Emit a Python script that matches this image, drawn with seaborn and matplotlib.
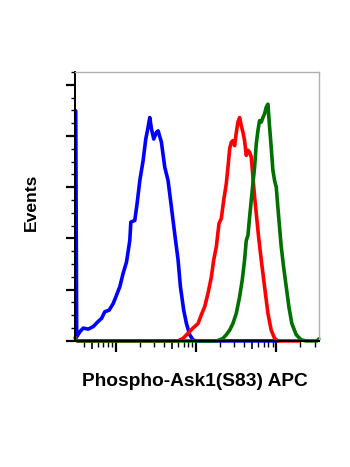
import numpy as np
import pandas as pd
import seaborn as sns
import matplotlib
matplotlib.use("Agg")
import matplotlib.pyplot as plt
from matplotlib.ticker import FixedLocator, NullFormatter

# log10(fluorescence) positions and event heights (arbitrary units, 0..5.25)
blue_logx = [0.500, 0.512, 0.552, 0.593, 0.656, 0.718, 0.780, 0.822, 0.863, 0.917,
             0.967, 1.008, 1.050, 1.091, 1.133, 1.174, 1.187, 1.236, 1.265, 1.299,
             1.340, 1.373, 1.402, 1.423, 1.444, 1.473, 1.506, 1.527, 1.568, 1.610,
             1.651, 1.693, 1.734, 1.776, 1.805, 1.846, 1.880, 1.921, 1.962, 2.004,
             3.020]
blue_y = [4.49, 0.08, 0.18, 0.25, 0.23, 0.28, 0.38, 0.44, 0.57, 0.60,
          0.73, 0.89, 1.06, 1.32, 1.54, 1.96, 2.32, 2.35, 2.68, 3.13,
          3.52, 3.94, 4.17, 4.36, 4.14, 3.94, 4.07, 4.10, 3.88, 3.39,
          3.13, 2.61, 2.09, 1.58, 1.06, 0.60, 0.34, 0.12, 0.02, 0.0,
          0.0]

red_logx = [0.494, 0.520, 1.776, 1.838, 1.900, 1.962, 2.025, 2.066, 2.108, 2.149,
            2.191, 2.220, 2.253, 2.286, 2.315, 2.344, 2.377, 2.398, 2.419, 2.440,
            2.460, 2.481, 2.502, 2.522, 2.543, 2.564, 2.585, 2.605, 2.626, 2.647,
            2.668, 2.688, 2.709, 2.730, 2.751, 2.780, 2.813, 2.854, 2.896, 2.937,
            2.979, 3.020, 3.290]
red_y = [0.07, 0.0, 0.0, 0.05, 0.15, 0.25, 0.34, 0.51, 0.67, 0.93,
         1.25, 1.58, 1.84, 2.29, 2.39, 2.74, 3.07, 3.39, 3.75, 3.88,
         3.91, 3.81, 4.07, 4.27, 4.36, 4.20, 4.07, 3.91, 3.62, 3.72,
         3.68, 3.59, 3.20, 2.81, 2.48, 2.03, 1.58, 1.06, 0.54, 0.21,
         0.05, 0.0, 0.0]

green_logx = [0.494, 0.520, 2.253, 2.294, 2.336, 2.377, 2.419, 2.460, 2.502, 2.543,
              2.576, 2.605, 2.626, 2.647, 2.668, 2.688, 2.709, 2.730, 2.751, 2.771,
              2.792, 2.813, 2.834, 2.854, 2.875, 2.896, 2.917, 2.937, 2.958, 2.979,
              3.000, 3.020, 3.041, 3.062, 3.091, 3.124, 3.157, 3.194, 3.249, 3.311,
              3.373, 3.510, 3.531]
green_y = [0.05, 0.0, 0.0, 0.02, 0.05, 0.12, 0.21, 0.34, 0.54, 0.86,
           1.19, 1.58, 1.96, 2.06, 2.42, 2.74, 3.07, 3.39, 3.85, 4.10,
           4.30, 4.27, 4.36, 4.43, 4.56, 4.62, 4.17, 3.78, 3.33, 3.13,
           3.00, 2.61, 2.22, 1.84, 1.45, 1.06, 0.67, 0.34, 0.12, 0.02,
           0.0, 0.0, 0.04]

x_label = "Phospho-Ask1(S83) APC"
y_label = "Events"

frames = []
for name, lx, yy in [("blue", blue_logx, blue_y), ("red", red_logx, red_y),
                     ("green", green_logx, green_y)]:
    frames.append(pd.DataFrame({"x": 10 ** np.array(lx), "y": yy, "s": name}))
df = pd.concat(frames, ignore_index=True)

sns.set_style("white")
plt.rcParams['font.family'] = ['Liberation Sans', 'DejaVu Sans']
plt.rcParams['text.color'] = 'black'

fig = plt.figure(figsize=(3.5, 4.67), dpi=100)
ax = fig.add_axes([0.215, 0.270, 0.696, 0.576])

palette = {"blue": "#0000ff", "red": "#ff0000", "green": "#007000"}
for name in ["blue", "red", "green"]:
    sns.lineplot(data=df[df.s == name], x="x", y="y", color=palette[name],
                 lw=2.6, ax=ax, sort=False, estimator=None, clip_on=False)

ax.set_xscale("log")
ax.set_xlim(10 ** 0.494, 10 ** 3.531)
ax.set_ylim(0, 5.25)

ax.xaxis.set_major_locator(FixedLocator([10, 100, 1000]))
minors = [m * 10 ** d for d in range(0, 4) for m in (2, 3, 4, 6, 7, 8, 9)]
ax.xaxis.set_minor_locator(FixedLocator(minors))
ax.xaxis.set_major_formatter(NullFormatter())
ax.xaxis.set_minor_formatter(NullFormatter())
ax.tick_params(axis="x", which="major", direction="out", length=8, width=1.6, color="black", bottom=True)
ax.tick_params(axis="x", which="minor", direction="out", length=4, width=1.0, color="black", bottom=True)

sec = ax.secondary_xaxis("bottom")
sec.set_xticks([5, 50, 500])
sec.xaxis.set_major_formatter(NullFormatter())
sec.tick_params(axis="x", which="major", direction="out", length=6, width=1.2, color="black")
sec.tick_params(axis="x", which="minor", bottom=False)
sec.spines["bottom"].set_visible(False)

ax.yaxis.set_major_locator(FixedLocator([0, 1, 2, 3, 4, 5]))
ax.yaxis.set_minor_locator(FixedLocator(np.arange(0, 5.26, 0.25)))
ax.yaxis.set_major_formatter(NullFormatter())
ax.tick_params(axis="y", which="major", direction="out", length=6.5, width=1.6, color="black", left=True)
ax.tick_params(axis="y", which="minor", direction="out", length=3, width=1.0, color="black", left=True)

for sp in ["left", "bottom"]:
    ax.spines[sp].set_color("black")
    ax.spines[sp].set_linewidth(1.4)
for sp in ["top", "right"]:
    ax.spines[sp].set_color("#b0b0b0")
    ax.spines[sp].set_linewidth(1.0)

ax.set_xlabel("")
ax.set_ylabel("")
fig.text(0.557, 1 - 381 / 467, x_label, ha="center", va="center",
         fontsize=13.8, fontweight="bold", color="black")
fig.text(31 / 350, 1 - 202 / 467, y_label, ha="center", va="center",
         rotation=90, fontsize=12.6, fontweight="bold", color="black")

fig.savefig("out.png", dpi=100)
